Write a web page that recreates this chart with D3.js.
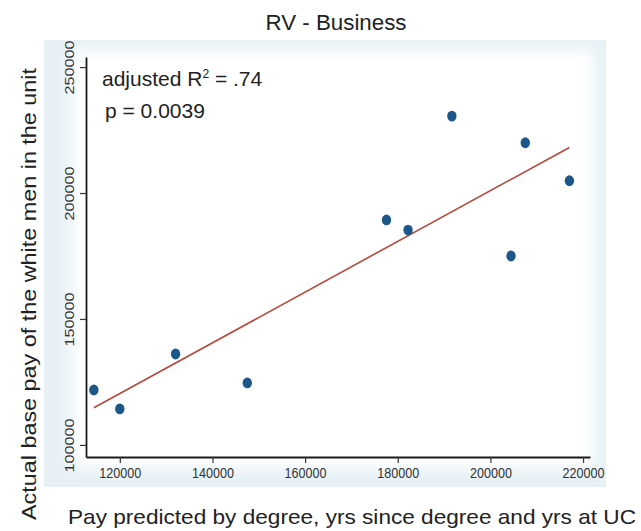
<!DOCTYPE html>
<html>
<head>
<meta charset="utf-8">
<script src="https://cdn.jsdelivr.net/npm/d3@7"></script>
<style>
  html, body { margin: 0; padding: 0; background: #ffffff; }
  svg { display: block; font-family: "Liberation Sans", Arial, Helvetica, sans-serif; }
</style>
</head>
<body>
<svg id="chart" width="641" height="531"></svg>
<script>
// ---- data ----
const predictedPay = [114400, 120000, 132040, 147520, 177570, 182220, 191680, 204450, 207530, 217050];
const actualPay    = [121800, 114300, 136100, 124600, 189300, 185300, 230550, 175000, 219950, 204870];
const xTicks = [120000, 140000, 160000, 180000, 200000, 220000];
const yTicks = [100000, 150000, 200000, 250000];
const titleText = "RV - Business";
const xTitle = "Pay predicted by degree, yrs since degree and yrs at UC";
const yTitle = "Actual base pay of the white men in the unit";
const annotR2 = ["adjusted R", "2", " = .74"];
const annotP = "p = 0.0039";

// ---- layout ----
const svg = d3.select("#chart");
const x = d3.scaleLinear().domain([112700, 221500]).range([86, 590]);
const y = d3.scaleLinear().domain([95200, 254000]).range([457, 57]);

// background (light tinted graph region with white plot area)
const defs = svg.append("defs");
defs.append("filter").attr("id", "soft").attr("x", "-10%").attr("y", "-10%").attr("width", "120%").attr("height", "120%")
  .append("feGaussianBlur").attr("stdDeviation", 7);
svg.append("rect").attr("x", 44).attr("y", 40).attr("width", 562).attr("height", 447).attr("fill", "#e7f1f5");
svg.append("rect").attr("x", 72).attr("y", 50).attr("width", 522).attr("height", 418).attr("fill", "#ffffff").attr("filter", "url(#soft)");

// regression line (OLS from data)
const mx = d3.mean(predictedPay), my = d3.mean(actualPay);
let sxy = 0, sxx = 0;
predictedPay.forEach((v, i) => { sxy += (v - mx) * (actualPay[i] - my); sxx += (v - mx) * (v - mx); });
const slope = sxy / sxx, intercept = my - slope * mx;
const [xmin, xmax] = d3.extent(predictedPay);
svg.append("line")
  .attr("x1", x(xmin)).attr("y1", y(intercept + slope * xmin))
  .attr("x2", x(xmax)).attr("y2", y(intercept + slope * xmax))
  .attr("stroke", "#b8473d").attr("stroke-width", 1.6);

// points
svg.append("g").selectAll("ellipse")
  .data(predictedPay.map((v, i) => [v, actualPay[i]]))
  .join("ellipse")
  .attr("cx", d => x(d[0])).attr("cy", d => y(d[1]))
  .attr("rx", 4.7).attr("ry", 5.4)
  .attr("fill", "#1d568a");

// axes
const xAxis = svg.append("g").attr("transform", "translate(0,457)")
  .call(d3.axisBottom(x).tickValues(xTicks).tickSize(6).tickSizeOuter(0).tickFormat(d3.format("d")));
xAxis.select(".domain").attr("stroke", "#1a1a1a").attr("stroke-width", 1.8);
xAxis.selectAll(".tick line").attr("stroke", "#333").attr("stroke-width", 1.2);
xAxis.selectAll(".tick text").attr("font-size", 14).attr("fill", "#333").attr("y", 11)
  .attr("textLength", 42).attr("lengthAdjust", "spacingAndGlyphs");

const yAxis = svg.append("g").attr("transform", "translate(86,0)")
  .call(d3.axisLeft(y).tickValues(yTicks).tickSize(6).tickSizeOuter(0).tickFormat(d3.format("d")));
yAxis.select(".domain").attr("stroke", "#1a1a1a").attr("stroke-width", 1.8);
yAxis.selectAll(".tick line").attr("stroke", "#333").attr("stroke-width", 1.2);
yAxis.selectAll(".tick text")
  .attr("font-size", 13).attr("fill", "#333")
  .attr("x", null).attr("dy", null)
  .attr("transform", "translate(-12.5,0) rotate(-90)")
  .attr("text-anchor", "middle")
  .attr("textLength", 54).attr("lengthAdjust", "spacingAndGlyphs");

// title
svg.append("text").attr("x", 336).attr("y", 29.5).attr("text-anchor", "middle")
  .attr("font-size", 22).attr("fill", "#222")
  .attr("textLength", 141).attr("lengthAdjust", "spacingAndGlyphs").text(titleText);

// axis titles
svg.append("text").attr("x", 352).attr("y", 524).attr("text-anchor", "middle")
  .attr("font-size", 21).attr("fill", "#222")
  .attr("textLength", 568).attr("lengthAdjust", "spacingAndGlyphs").text(xTitle);
svg.append("text").attr("transform", "translate(35.5,294) rotate(-90)").attr("text-anchor", "middle")
  .attr("font-size", 21).attr("fill", "#222")
  .attr("textLength", 452).attr("lengthAdjust", "spacingAndGlyphs").text(yTitle);

// annotations
const t1 = svg.append("text").attr("x", 102).attr("y", 86).attr("font-size", 21).attr("fill", "#222");
t1.append("tspan").text(annotR2[0]);
t1.append("tspan").attr("font-size", 12).attr("dy", -8).text(annotR2[1]);
t1.append("tspan").attr("dy", 8).text(annotR2[2]);
svg.append("text").attr("x", 105).attr("y", 118).attr("font-size", 21).attr("fill", "#222").text(annotP);
</script>
</body>
</html>
